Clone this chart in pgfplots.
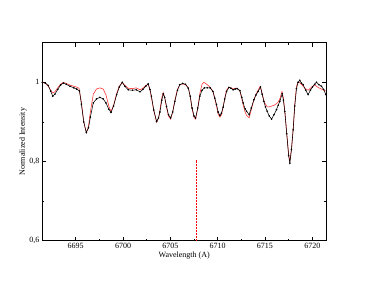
\documentclass[border=0pt]{standalone}
\usepackage{pgfplots}
\pgfplotsset{compat=1.18}
\usepackage{fontspec}
\setmainfont{Liberation Serif}
\definecolor{specred}{RGB}{255,40,40}
\begin{document}
\fontsize{8}{9.6}\selectfont
\begin{tikzpicture}
\path[use as bounding box] (0,0) rectangle (367pt,284pt);
\begin{axis}[
  at={(42.3pt,43.3pt)}, anchor=south west,
  scale only axis, width=283.7pt, height=198pt,
  xmin=6691.47, xmax=6721.45, ymin=0.6, ymax=1.1,
  xtick={6695,6700,6705,6710,6715,6720},
  minor x tick num=1,
  ytick={0.6,0.8,1}, minor ytick={0.7,0.9},
  tick align=inside, major tick length=4pt, minor tick length=2pt,
  axis line style={line width=0.6pt}, every tick/.style={black,line width=0.5pt},
  /pgf/number format/assume math mode=true,
  /pgf/number format/.cd, use comma, fixed, 1000 sep={},
  /pgfplots/.cd,
  ticklabel style={font=\fontsize{8}{9.6}\selectfont},
  label style={font=\fontsize{8}{9.6}\selectfont},
  xlabel={Wavelength (A)}, ylabel={Normalized Intensity},
  xlabel style={at={(axis description cs:0.5,-0.073)}, anchor=center},
  ylabel style={at={(axis description cs:-0.068,0.5)}, anchor=center},
]
\addplot[draw=specred, line width=0.55pt] coordinates {
(6691.47,1.000) (6691.8,0.997) (6692.1,0.990) (6692.35,0.980) (6692.57,0.973) (6692.8,0.976) (6693.1,0.986) (6693.4,0.995) (6693.7,1.000) (6694.0,0.997) (6694.4,0.993) (6694.8,0.990) (6695.1,0.988) (6695.35,0.985) (6695.6,0.950) (6695.85,0.900) (6696.12,0.873) (6696.35,0.888) (6696.55,0.925) (6696.86,0.970) (6697.2,0.983) (6697.56,0.986) (6697.9,0.983) (6698.2,0.968) (6698.5,0.940) (6698.73,0.926) (6699.0,0.942) (6699.33,0.972) (6699.6,0.990) (6699.92,1.000) (6700.2,0.992) (6700.55,0.985) (6701.0,0.984) (6701.4,0.986) (6701.79,0.981) (6702.1,0.985) (6702.4,0.992) (6702.66,0.995) (6702.85,0.980) (6703.0,0.962) (6703.25,0.928) (6703.55,0.899) (6703.75,0.910) (6703.9,0.930) (6704.1,0.962) (6704.25,0.974) (6704.4,0.962) (6704.6,0.936) (6704.8,0.915) (6705.03,0.907) (6705.25,0.925) (6705.48,0.955) (6705.75,0.982) (6706.0,0.994) (6706.3,0.996) (6706.6,0.994) (6706.9,0.987) (6707.1,0.965) (6707.3,0.932) (6707.5,0.912) (6707.67,0.907) (6707.9,0.935) (6708.12,0.972) (6708.35,0.995) (6708.55,1.000) (6708.9,0.994) (6709.2,0.988) (6709.5,0.977) (6709.7,0.958) (6709.88,0.940) (6710.05,0.920) (6710.24,0.912) (6710.4,0.918) (6710.58,0.937) (6710.75,0.960) (6710.94,0.980) (6711.19,0.988) (6711.4,0.986) (6711.64,0.983) (6711.85,0.985) (6712.07,0.985) (6712.35,0.978) (6712.55,0.958) (6712.7,0.942) (6712.9,0.925) (6713.05,0.917) (6713.33,0.910) (6713.55,0.930) (6713.83,0.956) (6714.05,0.970) (6714.28,0.980) (6714.5,0.990) (6714.7,0.972) (6714.88,0.955) (6715.05,0.945) (6715.23,0.938) (6715.45,0.938) (6715.7,0.940) (6715.95,0.942) (6716.22,0.946) (6716.4,0.950) (6716.57,0.958) (6716.8,0.977) (6716.95,0.960) (6717.1,0.926) (6717.3,0.872) (6717.5,0.818) (6717.63,0.800) (6717.8,0.832) (6717.98,0.882) (6718.15,0.945) (6718.33,0.990) (6718.5,1.000) (6718.68,0.999) (6718.85,0.995) (6719.03,0.990) (6719.3,0.983) (6719.56,0.980) (6719.8,0.985) (6720.02,0.990) (6720.25,0.993) (6720.44,0.990) (6720.7,0.986) (6720.97,0.983) (6721.2,0.980) (6721.43,0.978)
};
\addplot[black, line width=0.55pt, mark=*, mark size=0.5pt] coordinates {
(6691.47,1.000) (6691.8,0.998) (6692.1,0.992) (6692.35,0.978) (6692.57,0.965) (6692.8,0.970) (6693.1,0.982) (6693.4,0.993) (6693.7,0.998) (6694.0,0.995) (6694.4,0.990) (6694.8,0.986) (6695.1,0.983) (6695.4,0.978) (6695.6,0.945) (6695.85,0.900) (6696.12,0.873) (6696.35,0.885) (6696.55,0.912) (6696.86,0.948) (6697.2,0.958) (6697.56,0.962) (6697.9,0.958) (6698.2,0.948) (6698.5,0.932) (6698.73,0.924) (6699.0,0.940) (6699.33,0.969) (6699.6,0.988) (6699.92,1.000) (6700.2,0.990) (6700.55,0.981) (6701.0,0.980) (6701.4,0.981) (6701.79,0.976) (6702.1,0.982) (6702.4,0.990) (6702.66,0.996) (6702.85,0.982) (6703.0,0.965) (6703.25,0.930) (6703.55,0.901) (6703.75,0.910) (6703.9,0.925) (6704.1,0.955) (6704.25,0.971) (6704.4,0.962) (6704.6,0.939) (6704.8,0.918) (6705.03,0.910) (6705.25,0.925) (6705.48,0.952) (6705.75,0.980) (6706.0,0.994) (6706.3,0.997) (6706.6,0.995) (6706.9,0.985) (6707.1,0.965) (6707.3,0.935) (6707.5,0.915) (6707.67,0.910) (6707.9,0.935) (6708.12,0.965) (6708.35,0.980) (6708.6,0.986) (6708.9,0.986) (6709.2,0.986) (6709.5,0.977) (6709.7,0.960) (6709.88,0.944) (6710.05,0.925) (6710.24,0.916) (6710.4,0.922) (6710.58,0.937) (6710.75,0.958) (6710.94,0.977) (6711.19,0.987) (6711.4,0.985) (6711.64,0.981) (6711.85,0.983) (6712.07,0.984) (6712.35,0.979) (6712.55,0.962) (6712.7,0.948) (6712.9,0.933) (6713.05,0.927) (6713.33,0.918) (6713.55,0.935) (6713.83,0.956) (6714.05,0.968) (6714.28,0.977) (6714.53,0.988) (6714.7,0.970) (6714.88,0.952) (6715.05,0.938) (6715.23,0.927) (6715.45,0.915) (6715.7,0.907) (6715.95,0.918) (6716.22,0.931) (6716.4,0.942) (6716.57,0.952) (6716.82,0.971) (6716.95,0.955) (6717.1,0.926) (6717.3,0.870) (6717.5,0.815) (6717.63,0.796) (6717.8,0.830) (6717.98,0.880) (6718.15,0.940) (6718.33,0.984) (6718.5,1.000) (6718.68,1.005) (6718.85,0.998) (6719.03,0.994) (6719.3,0.980) (6719.56,0.969) (6719.8,0.980) (6720.02,0.988) (6720.25,0.995) (6720.44,1.000) (6720.7,0.994) (6720.97,0.990) (6721.2,0.982) (6721.43,0.969)
};
\addplot[color=red, dash pattern=on 1.5pt off 1.5pt, line width=0.8pt] coordinates {(6707.8,0.6) (6707.8,0.805)};
\end{axis}
\end{tikzpicture}
\end{document}
